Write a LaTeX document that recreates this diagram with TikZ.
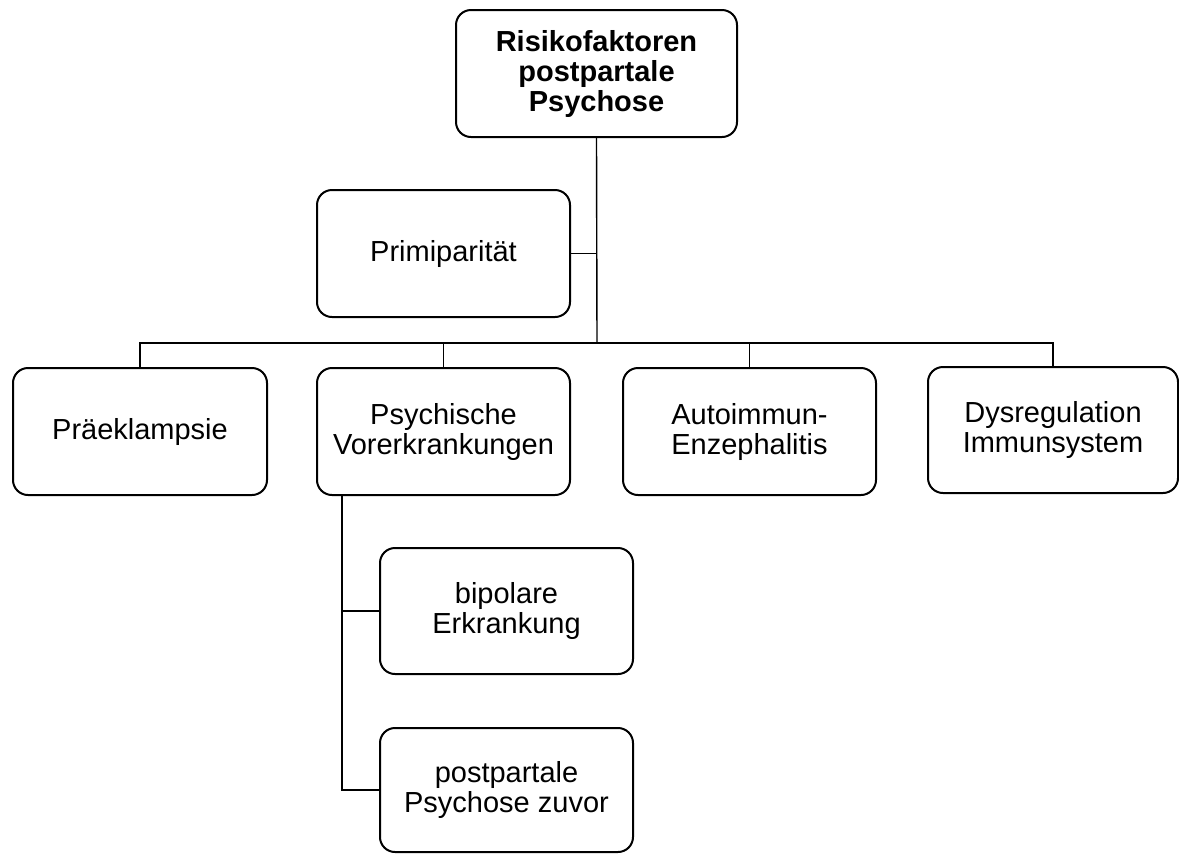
\documentclass[tikz,border=0pt]{standalone}
\usepackage{fontspec}
\setmainfont{Liberation Sans}
\begin{document}
\begin{tikzpicture}[x=0.5pt,y=-0.5pt]
\tikzstyle{every node}+=[inner sep=0pt]
\tikzstyle{box}=[draw=black, line width=1pt, rounded corners=7.5pt, align=center, minimum width=126.5pt, minimum height=63.5pt, font=\fontsize{14.5}{15}\selectfont]
\tikzstyle{link}=[black, line width=0.7pt]
\useasboundingbox (0,0) rectangle (1179,853);
\node [box, minimum width=140.5pt, font=\fontsize{14.5}{15}\selectfont\bfseries] (risk) at (596.5,73.5) {Risikofaktoren\\postpartale\\Psychose};
\node [box] (prim) at (443.5,253.5) {Primiparität};
\node [box, minimum width=127pt] (prae) at (140,431.5) {Präeklampsie};
\node [box] (psych) at (443.5,431.5) {Psychische\\Vorerkrankungen};
\node [box] (auto) at (749.5,431.5) {Autoimmun-\\Enzephalitis};
\node [box, minimum width=125pt, minimum height=63pt] (dys) at (1053,430) {Dysregulation\\Immunsystem};
\node [box, minimum height=63pt] (bip) at (506.5,611) {bipolare\\Erkrankung};
\node [box, minimum height=62pt] (ppz) at (506.5,790) {postpartale\\Psychose zuvor};
\coordinate (hub) at (597,343);
% Stamm und Querbalken
\draw [link] (risk.south) -- (hub);
\draw [link] (prim) -- (prim -| risk);
\draw [link] (prae.north) |- (hub) -| (dys.north);
\draw [link] (psych.north) -- (psych.north |- hub);
\draw [link] (auto.north) -- (auto.north |- hub);
% Unterpunkte
\draw [link] ([xshift=13pt]psych.south west) |- (bip.west);
\draw [link] ([xshift=13pt]psych.south west) |- (ppz.west);
\end{tikzpicture}
\end{document}
